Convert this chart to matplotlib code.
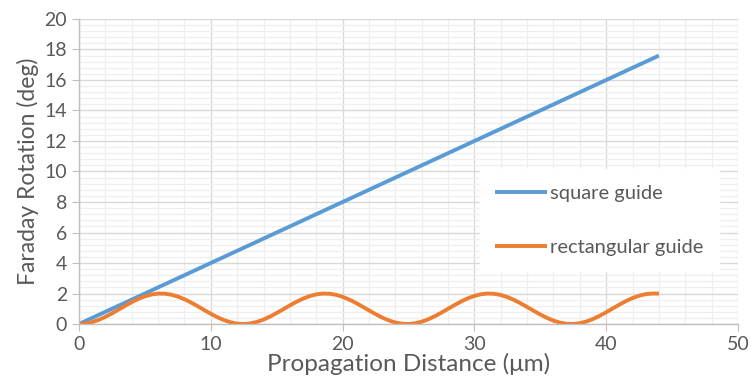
import matplotlib.pyplot as plt
from matplotlib.ticker import MultipleLocator

# square guide: straight line
sq_x = [0, 44]
sq_y = [0, 17.6]

# rectangular guide, read every 0.5 um
rect_x = [i * 0.5 for i in range(0, 89)]
rect_y = [0.0, 0.032, 0.125, 0.273, 0.467, 0.696, 0.944, 1.194, 1.434, 1.644,
          1.815, 1.934, 1.994, 1.990, 1.925, 1.800, 1.624, 1.410, 1.169, 0.918,
          0.671, 0.445, 0.255, 0.112, 0.026, 0.000, 0.039, 0.138, 0.291, 0.490,
          0.721, 0.970, 1.220, 1.457, 1.664, 1.830, 1.943, 1.996, 1.986, 1.914,
          1.784, 1.603, 1.386, 1.143, 0.892, 0.647, 0.424, 0.238, 0.100, 0.020,
          0.001, 0.046, 0.151, 0.310, 0.512, 0.746, 0.996, 1.245, 1.480, 1.684,
          1.844, 1.952, 1.998, 1.982, 1.903, 1.767, 1.582, 1.362, 1.117, 0.866,
          0.622, 0.402, 0.222, 0.089, 0.015, 0.003, 0.054, 0.165, 0.330, 0.535,
          0.772, 1.023, 1.271, 1.503, 1.703, 1.858, 1.959, 1.999, 1.995]

labels = ['square guide', 'rectangular guide']
colors = ['#5B9BD5', '#ED7D31']
txt = '#595959'

plt.rcParams['font.family'] = ['Lato', 'DejaVu Sans']

fig = plt.figure(figsize=(7.51, 3.86), dpi=100)
ax = fig.add_axes([0.1052, 0.1606, 0.8775, 0.7902])

ax.plot(sq_x, sq_y, color=colors[0], lw=2.8, label=labels[0], solid_capstyle='butt')
ax.plot(rect_x, rect_y, color=colors[1], lw=2.8, label=labels[1], solid_capstyle='butt')

ax.set_xlim(0, 50)
ax.set_ylim(0, 20)
ax.xaxis.set_major_locator(MultipleLocator(10))
ax.xaxis.set_minor_locator(MultipleLocator(2))
ax.yaxis.set_major_locator(MultipleLocator(2))
ax.yaxis.set_minor_locator(MultipleLocator(0.4))
ax.grid(which='major', color='#d9d9d9', lw=1.0)
ax.grid(which='minor', color='#efefef', lw=0.9)
ax.set_axisbelow(True)

for s in ['top', 'right']:
    ax.spines[s].set_visible(False)
for s in ['left', 'bottom']:
    ax.spines[s].set_color('#bfbfbf')
    ax.spines[s].set_linewidth(1.0)

ax.tick_params(which='major', length=5, color='#bfbfbf', labelsize=14, labelcolor=txt)
ax.tick_params(which='minor', length=0)

ax.set_xlabel('Propagation Distance (\u03bcm)', fontsize=17.5, color=txt, labelpad=0)
ax.set_ylabel('Faraday Rotation (deg)', fontsize=16.5, color=txt, labelpad=4)

leg = ax.legend(loc='upper left', bbox_to_anchor=(0.593, 0.54), frameon=True,
                fancybox=False, edgecolor='white', framealpha=1.0, fontsize=14.5,
                handlelength=2.6, handletextpad=0.15, labelspacing=1.85,
                borderpad=0.75)
for t in leg.get_texts():
    t.set_color(txt)

fig.savefig('out.png', dpi=100)
